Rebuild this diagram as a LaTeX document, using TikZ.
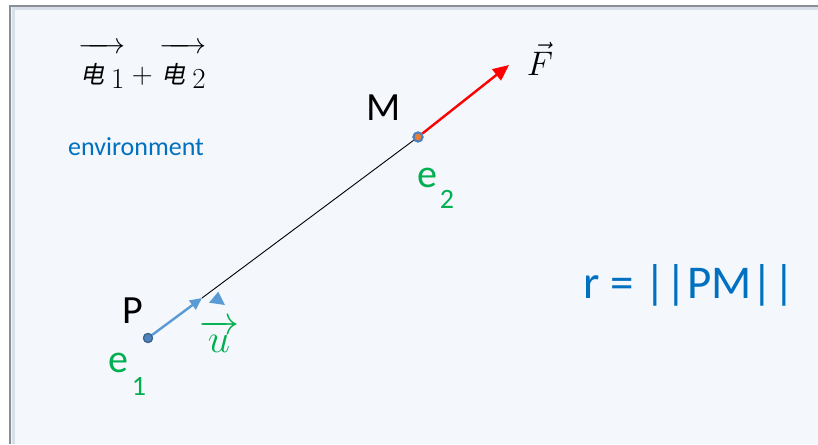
\documentclass[tikz,border=0pt]{standalone}
\usepackage{fix-cm}
\usepackage{amsmath}
\usepackage{fontspec}
\setmainfont{Carlito}
\newfontfamily\cjkslant[FakeSlant=0.2]{Noto Sans CJK SC}
\usetikzlibrary{arrows.meta}
\definecolor{bgc}{HTML}{F4F7FC}
\definecolor{frame}{HTML}{8A8F96}
\definecolor{framein}{HTML}{D9DFE8}
\definecolor{blu}{HTML}{5B9BD5}
\definecolor{dotfill}{HTML}{4F81BD}
\definecolor{dotline}{HTML}{3A6590}
\definecolor{grn}{HTML}{00B050}
\definecolor{txtblue}{HTML}{0070C0}
\definecolor{org}{HTML}{ED7D31}
\newcommand{\dianvec}[1]{\overrightarrow{\rule{0pt}{30pt}\hspace{2pt}\text{\cjkslant\fontsize{24}{26}\selectfont 电}\hspace{7pt}\raisebox{-5pt}{$#1$}\hspace{1pt}}}
\begin{document}
\begin{tikzpicture}[x=1pt,y=-1pt,
  lbl/.style={inner sep=0pt, font=\fontsize{40}{44}\selectfont},
  sub/.style={inner sep=0pt, font=\fontsize{28}{32}\selectfont, text=grn},
  dot/.style={circle, inner sep=0pt, minimum size=9pt, fill=dotfill, draw=dotline, line width=1.2pt},
  mdot/.style={circle, inner sep=0pt, minimum size=9pt, fill=org, draw=dotfill, line width=2pt},
  bluearrow/.style={draw=blu, line width=2.4pt, -{Triangle[length=12pt,width=11pt]}},
  redarrow/.style={draw=red, line width=2.4pt, -{Triangle[length=16pt,width=14pt]}}]
\useasboundingbox (0,0) rectangle (818,444);
\fill[white] (0,0) rectangle (818,444);
\fill[bgc] (10,6) rectangle (818,444);
\draw[framein, line width=3pt] (13,444) -- (13,9) -- (818,9);
\draw[frame, line width=1.8pt] (10,444) -- (10,6) -- (818,6);
% points
\node[dot] (P) at (148,338) {};
\node[mdot] (M) at (418,137) {};
\coordinate (utip) at (202,298);
\coordinate (ftip) at (509,65);
\draw[black, line width=0.9pt] (utip) -- (M);
\draw[bluearrow] (P) -- (utip);
\node[dot] at (P) {};
\draw[redarrow] (M) -- (ftip);
\node[mdot] at (M) {};
\fill[blu] (218.3,291.7) -- (225,305) -- (209,302.7) -- cycle;
% labels
\node[lbl, anchor=base] (lP) at (133,323) {P};
\node[lbl, anchor=base] (lM) at (384,120) {M};
\node[lbl, anchor=base, text=grn] (e1) at (118,372) {e};
\node[sub, anchor=base] (s1) at (139,395) {1};
\node[lbl, anchor=base, text=grn] (e2) at (427,187) {e};
\node[sub, anchor=base] (s2) at (447,208) {2};
\node[inner sep=0pt, anchor=base, text=grn, font=\fontsize{40}{44}\selectfont] (u) at (219,352) {$\overrightarrow{u}$};
\node[inner sep=0pt, anchor=base, font=\fontsize{34}{38}\selectfont] (F) at (540,75) {$\vec{F}$};
\node[inner sep=0pt, anchor=base, text=txtblue, font=\fontsize{26}{30}\selectfont] (env) at (136,155) {environment};
\node[inner sep=0pt, anchor=base west, text=txtblue, font=\fontsize{47}{50}\selectfont] (r) at (583,298) {r = ||PM||};
\node[inner sep=0pt, anchor=base west, font=\fontsize{29}{32}\selectfont] (sum) at (78,83)
  {$\dianvec{1}+\dianvec{2}$};
\end{tikzpicture}
\end{document}
